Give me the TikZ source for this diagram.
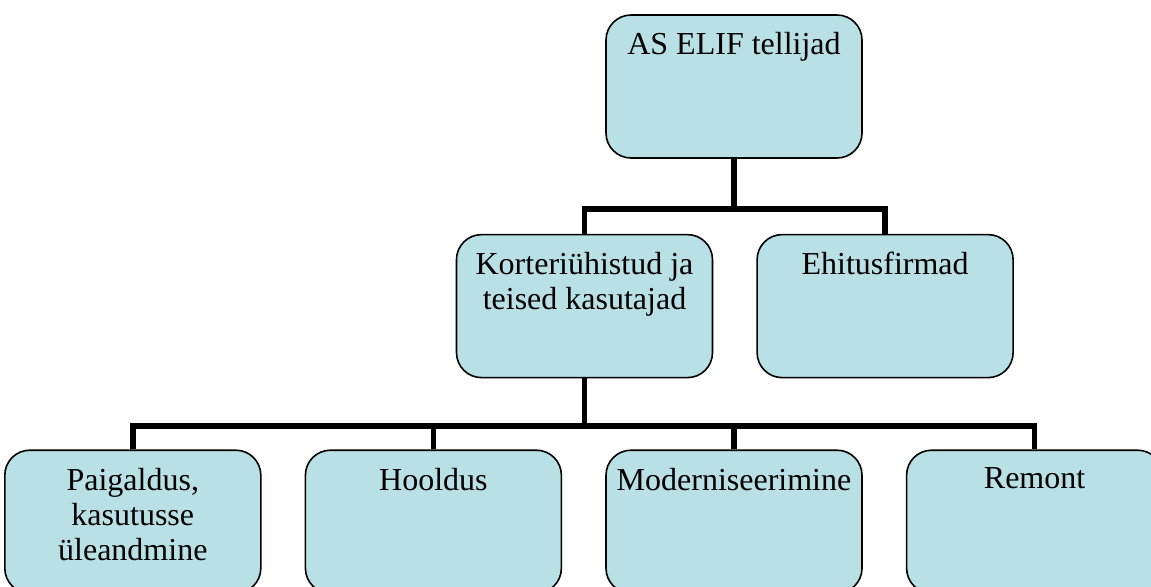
\documentclass[tikz,border=0pt]{standalone}
\usepackage{fontspec}
\setmainfont{Liberation Serif}
\usepackage{xcolor}
\usetikzlibrary{positioning, calc}
\definecolor{boxfill}{RGB}{185,224,228}
\tikzset{
    orgchart/.style={x=0.5pt, y=-0.5pt, node distance=37.5pt and 21.5pt},
    orgbox/.style={draw, fill=boxfill, line width=0.8pt, rounded corners=12.5pt,
        minimum width=128pt, minimum height=71.5pt, inner sep=0pt},
    % text sits at the top of each box
    orgtext/.style={anchor=north, yshift=-9pt, inner sep=0pt, align=center,
        font=\fontsize{16}{17.5}\selectfont},
    link/.style={line width=2.75pt},
}

\begin{document}
\begin{tikzpicture}[orgchart]
    \clip (0,0) rectangle (1151,586);

    \node[orgbox, label={[orgtext]north:AS ELIF tellijad}]                      (tellijad) at (734,86.5) {};
    \node[orgbox, below=of tellijad, xshift=-74.75pt,
          label={[orgtext]north:{Korteriühistud ja\\teised kasutajad}}]          (kyh)      {};
    \node[orgbox, right=of kyh, label={[orgtext]north:Ehitusfirmad}]            (ehitus)   {};
    \node[orgbox, below=35.5pt of kyh, xshift=74.75pt,
          label={[orgtext]north:Moderniseerimine}]                              (moder)    {};
    \node[orgbox, left=of moder, label={[orgtext]north:Hooldus}]                (hooldus)  {};
    \node[orgbox, left=of hooldus,
          label={[orgtext]north:{Paigaldus,\\kasutusse\\üleandmine}}]           (paig)     {};
    \node[orgbox, right=of moder, label={[orgtext]north:Remont}]                (remont)   {};

    \coordinate[above=12.5pt of kyh.north]   (bus1);
    \coordinate[above=11.75pt of moder.north] (bus2);

    \draw[link] (tellijad.south) |- (bus1) -- (kyh.north);
    \draw[link] (tellijad.south) |- (bus1 -| ehitus) -- (ehitus.north);

    \draw[link] (kyh.south) |- (bus2 -| paig) -- (paig.north);
    \draw[link] (kyh.south) |- (bus2 -| hooldus) -- (hooldus.north);
    \draw[link] (kyh.south) |- (bus2) -- (moder.north);
    \draw[link] (kyh.south) |- (bus2 -| remont) -- (remont.north);
\end{tikzpicture}
\end{document}
